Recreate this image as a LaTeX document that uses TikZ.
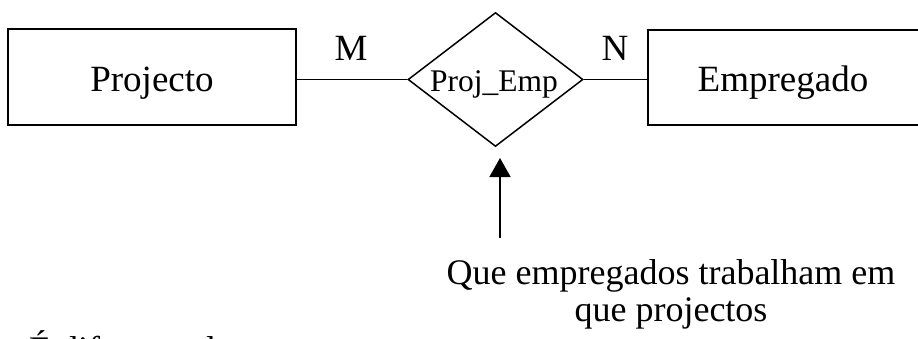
\documentclass[tikz,border=0pt]{standalone}
\usepackage{fontspec}
\setmainfont{Liberation Serif}
\usetikzlibrary{shapes.geometric,arrows.meta}
\tikzset{
  entity/.style={draw,line width=1.8pt,rectangle,inner sep=0pt},
  rel/.style={draw,line width=1.5pt,diamond,inner sep=0pt},
  conn/.style={line width=1.5pt},
  card/.style={font=\fontsize{37}{40}\selectfont,inner sep=0pt,anchor=base},
  lbl/.style={font=\fontsize{37}{40}\selectfont,inner sep=0pt,anchor=base},
}
\begin{document}
\begin{tikzpicture}[x=1pt,y=-1pt]
\useasboundingbox (0,0) rectangle (918,338);
\clip (0,0) rectangle (918,338);
% entities
\node[entity,minimum width=288pt,minimum height=96pt] (proj) at (152,77) {};
\node[lbl] (projt) at (152,91.5) {Projecto};
\node[entity,minimum width=280pt,minimum height=95pt] (emp) at (788,77.5) {};
\node[lbl] (empt) at (783,91.5) {Empregado};
% relationship diamond
\node[rel,minimum width=175pt,minimum height=134pt] (pe) at (495.5,79.5) {};
\node[font=\fontsize{31.5}{34}\selectfont,inner sep=0pt,anchor=base] (pet) at (494,91.7) {Proj\_Emp};
% connectors
\draw[conn] (pe.west -| proj.east) -- (pe.west);
\draw[conn] (pe.east) -- (emp.west |- pe.east);
% cardinalities
\node[card] (m) at (351,60) {M};
\node[card] (n) at (615,60) {N};
% annotation
\node[font=\fontsize{36}{37}\selectfont,inner sep=0pt,anchor=base,align=center] (note) at (671,321) {Que empregados trabalham em\\que projectos};
\coordinate (ntop) at (500,238);
\coordinate (ntip) at (500,158);
\draw[conn,-{Triangle[length=19pt,width=21pt]}] (ntop) -- (ntip);
% cut-off text at the bottom
\node[font=\fontsize{36}{40}\selectfont,inner sep=0pt,anchor=base west] (cut) at (29,361) {É diferente de};
\end{tikzpicture}
\end{document}
